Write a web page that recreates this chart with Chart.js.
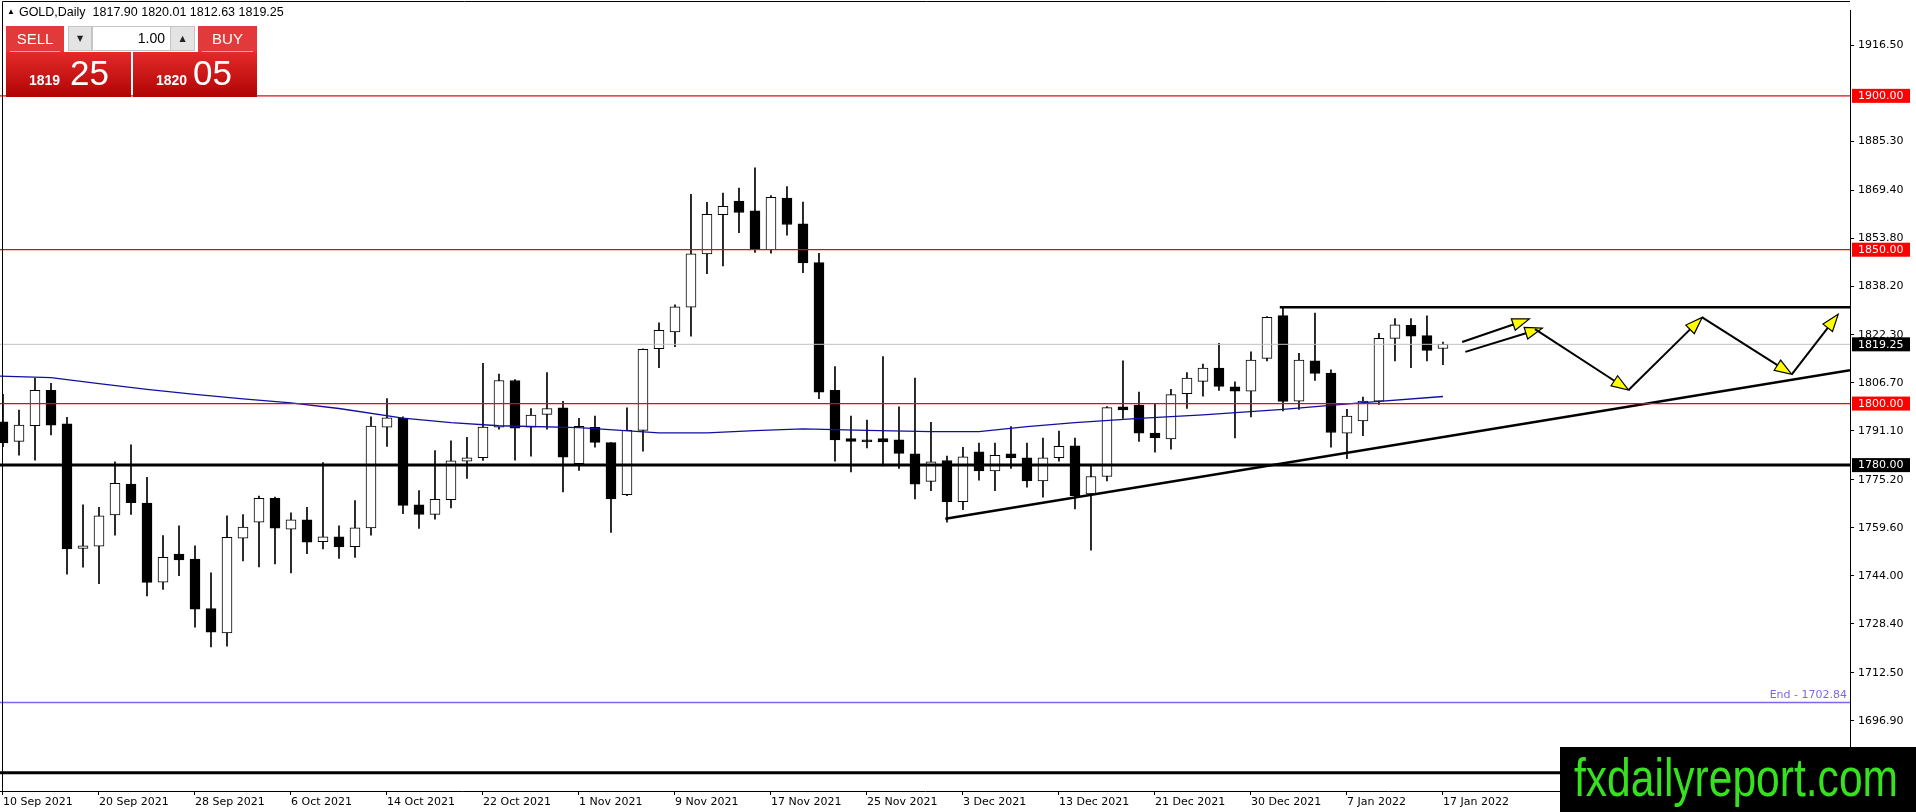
<!DOCTYPE html>
<html>
<head>
<meta charset="utf-8">
<title>GOLD,Daily</title>
<script src="https://cdn.jsdelivr.net/npm/chart.js@4.4.1/dist/chart.umd.min.js"></script>
<style>
  html, body { margin: 0; padding: 0; background: #fff; overflow: hidden; }
  #wrap { position: relative; width: 1916px; height: 812px; }
  #chart { position: absolute; left: 0; top: 0; }
  .hdr { position: absolute; left: 7px; top: 5px; font: 12.5px "Liberation Sans", Arial, sans-serif; color: #000; white-space: pre; }
  .hdr .tri { font-size: 8px; vertical-align: 2px; margin-right: 4px; }
  .btn { position: absolute; top: 26px; height: 26px; background: #e23a3a; color: #fff;
         font: 15px "Liberation Sans", Arial, sans-serif; text-align: center; line-height: 25px; }
  .btn:after { content: ""; position: absolute; left: 4px; right: 4px; bottom: 0; height: 1px; background: #f3a0a0; }
  .spin { position: absolute; top: 26px; height: 23px; background: #e4e4e4; border: 1px solid #c4c4c4;
          font: 8px "DejaVu Sans", sans-serif; color: #222; text-align: center; line-height: 23px; }
  .lot { position: absolute; top: 26px; left: 92px; width: 72px; height: 23px; background: #fff; border: 1px solid #c4c4c4;
         font: 14px "Liberation Sans", Arial, sans-serif; text-align: right; padding-right: 5px; line-height: 23px; }
  .price { position: absolute; top: 52px; height: 45px; background: linear-gradient(#e42a2a, #b00404); color: #fff;
           font-family: "Liberation Sans", Arial, sans-serif; white-space: nowrap; }
  .price b { position: absolute; bottom: 9px; font-size: 14px; }
  .price span { position: absolute; bottom: 4px; font-size: 35px; }
</style>
</head>
<body>
<div id="wrap">
  <canvas id="chart" width="1916" height="812"></canvas>
  <div class="hdr"><span class="tri">&#9650;</span>GOLD,Daily  1817.90 1820.01 1812.63 1819.25</div>
  <div class="btn" style="left:6px;width:58px;">SELL</div>
  <div class="spin" style="left:68px;width:22px;">&#9660;</div>
  <div class="lot">1.00</div>
  <div class="spin" style="left:170px;width:23px;">&#9650;</div>
  <div class="btn" style="left:198px;width:59px;">BUY</div>
  <div class="price" style="left:6px;width:125px;"><b style="left:23px;">1819</b><span style="left:64px;">25</span></div>
  <div class="price" style="left:133px;width:124px;"><b style="left:23px;">1820</b><span style="left:60px;">05</span></div>
</div>
<script>
// daily bars, 10 Sep 2021 - 17 Jan 2022
const dates = [
  '10 Sep 2021', '13 Sep 2021', '14 Sep 2021', '15 Sep 2021', '16 Sep 2021', '17 Sep 2021',
  '20 Sep 2021', '21 Sep 2021', '22 Sep 2021', '23 Sep 2021', '24 Sep 2021', '27 Sep 2021',
  '28 Sep 2021', '29 Sep 2021', '30 Sep 2021', '1 Oct 2021', '4 Oct 2021', '5 Oct 2021',
  '6 Oct 2021', '7 Oct 2021', '8 Oct 2021', '11 Oct 2021', '12 Oct 2021', '13 Oct 2021',
  '14 Oct 2021', '15 Oct 2021', '18 Oct 2021', '19 Oct 2021', '20 Oct 2021', '21 Oct 2021',
  '22 Oct 2021', '25 Oct 2021', '26 Oct 2021', '27 Oct 2021', '28 Oct 2021', '29 Oct 2021',
  '1 Nov 2021', '2 Nov 2021', '3 Nov 2021', '4 Nov 2021', '5 Nov 2021', '8 Nov 2021',
  '9 Nov 2021', '10 Nov 2021', '11 Nov 2021', '12 Nov 2021', '15 Nov 2021', '16 Nov 2021',
  '17 Nov 2021', '18 Nov 2021', '19 Nov 2021', '22 Nov 2021', '23 Nov 2021', '24 Nov 2021',
  '25 Nov 2021', '26 Nov 2021', '29 Nov 2021', '30 Nov 2021', '1 Dec 2021', '2 Dec 2021',
  '3 Dec 2021', '6 Dec 2021', '7 Dec 2021', '8 Dec 2021', '9 Dec 2021', '10 Dec 2021',
  '13 Dec 2021', '14 Dec 2021', '15 Dec 2021', '16 Dec 2021', '17 Dec 2021', '20 Dec 2021',
  '21 Dec 2021', '22 Dec 2021', '23 Dec 2021', '27 Dec 2021', '28 Dec 2021', '29 Dec 2021',
  '30 Dec 2021', '31 Dec 2021', '3 Jan 2022', '4 Jan 2022', '5 Jan 2022', '6 Jan 2022',
  '7 Jan 2022', '10 Jan 2022', '11 Jan 2022', '12 Jan 2022', '13 Jan 2022', '14 Jan 2022',
  '17 Jan 2022'
];
const opens = [
  1794.1, 1787.7, 1792.8, 1804.3, 1793.4, 1752.9, 1753.7, 1763.8, 1773.8, 1767.7,
  1742.0, 1751.1, 1749.5, 1733.4, 1725.5, 1756.3, 1761.5, 1769.2, 1759.2, 1762.2,
  1755.1, 1756.7, 1753.5, 1759.6, 1792.3, 1795.2, 1767.1, 1764.0, 1768.8, 1781.3,
  1782.4, 1792.3, 1807.5, 1792.3, 1796.5, 1798.6, 1780.5, 1792.3, 1787.3, 1770.4,
  1791.3, 1817.8, 1823.3, 1831.3, 1848.6, 1861.4, 1865.8, 1862.6, 1850.0, 1866.8,
  1858.4, 1845.8, 1804.3, 1788.6, 1788.2, 1788.6, 1788.2, 1783.7, 1774.7, 1781.5,
  1768.1, 1784.3, 1778.1, 1783.7, 1782.4, 1774.9, 1782.4, 1786.3, 1770.6, 1776.3,
  1798.9, 1799.5, 1790.4, 1788.5, 1803.2, 1807.2, 1811.5, 1805.4, 1804.0, 1814.7,
  1828.6, 1800.8, 1813.9, 1809.9, 1790.4, 1794.4, 1800.8, 1821.2, 1825.4, 1822.1,
  1817.90
];
const highs = [
  1803.0, 1797.9, 1808.2, 1806.6, 1795.5, 1767.1, 1766.3, 1781.1, 1786.6, 1776.0,
  1757.1, 1760.3, 1753.8, 1745.0, 1763.5, 1763.9, 1769.9, 1769.6, 1764.5, 1766.3,
  1780.8, 1760.3, 1768.5, 1795.7, 1801.6, 1795.7, 1771.7, 1784.7, 1787.9, 1789.0,
  1813.1, 1809.6, 1807.8, 1798.4, 1810.1, 1800.7, 1795.2, 1795.9, 1787.3, 1798.6,
  1817.8, 1826.2, 1832.1, 1868.0, 1865.4, 1868.4, 1870.0, 1876.6, 1867.6, 1870.5,
  1865.5, 1848.8, 1812.0, 1795.9, 1794.6, 1815.3, 1798.9, 1808.3, 1793.9, 1782.9,
  1785.8, 1787.2, 1787.2, 1792.5, 1787.2, 1788.8, 1791.1, 1788.8, 1780.0, 1799.0,
  1813.9, 1803.7, 1800.0, 1804.6, 1810.1, 1812.8, 1819.6, 1807.1, 1816.8, 1828.3,
  1831.2, 1816.3, 1829.4, 1811.0, 1798.1, 1802.1, 1822.8, 1827.6, 1827.6, 1828.5,
  1820.01
];
const lows = [
  1786.0, 1783.2, 1781.6, 1789.8, 1744.6, 1746.8, 1741.5, 1757.2, 1764.0, 1737.5,
  1739.6, 1744.1, 1727.3, 1720.9, 1721.2, 1748.9, 1746.9, 1747.9, 1745.0, 1751.2,
  1752.8, 1749.7, 1750.0, 1757.2, 1786.1, 1764.2, 1759.4, 1762.4, 1766.1, 1775.7,
  1781.5, 1791.7, 1781.6, 1782.9, 1791.7, 1771.3, 1778.3, 1785.8, 1758.1, 1770.1,
  1784.5, 1811.7, 1818.5, 1821.9, 1842.2, 1844.7, 1855.5, 1849.1, 1848.9, 1854.7,
  1842.5, 1801.6, 1781.3, 1777.8, 1785.6, 1779.7, 1778.9, 1769.0, 1771.7, 1761.5,
  1765.5, 1775.1, 1771.7, 1778.9, 1772.8, 1769.6, 1781.3, 1765.8, 1752.4, 1774.9,
  1795.2, 1787.7, 1784.2, 1785.2, 1798.4, 1802.4, 1804.3, 1788.8, 1795.7, 1813.9,
  1797.6, 1798.1, 1807.5, 1785.8, 1782.1, 1789.6, 1799.7, 1813.9, 1811.7, 1813.9,
  1812.63
];
const closes = [
  1787.2, 1793.0, 1804.3, 1793.0, 1752.8, 1753.8, 1763.5, 1774.1, 1767.8, 1741.9,
  1750.0, 1749.2, 1733.2, 1725.7, 1756.5, 1759.9, 1769.2, 1759.5, 1762.2, 1755.0,
  1756.7, 1753.4, 1759.6, 1792.7, 1795.4, 1766.9, 1764.0, 1768.9, 1781.4, 1782.4,
  1792.4, 1807.5, 1792.0, 1796.3, 1798.4, 1782.6, 1792.6, 1787.4, 1769.0, 1791.3,
  1817.6, 1823.8, 1831.4, 1848.7, 1861.5, 1864.1, 1862.1, 1850.1, 1867.0, 1858.2,
  1845.7, 1803.7, 1788.2, 1787.7, 1787.6, 1787.5, 1783.8, 1773.8, 1781.1, 1768.1,
  1782.7, 1778.1, 1783.2, 1782.4, 1774.9, 1782.4, 1786.1, 1770.1, 1776.3, 1798.7,
  1797.9, 1790.4, 1788.8, 1802.9, 1808.3, 1811.5, 1805.6, 1804.0, 1814.1, 1828.0,
  1800.7, 1814.1, 1809.8, 1790.6, 1795.9, 1800.8, 1821.2, 1825.6, 1821.9, 1817.3,
  1819.25
];

// moving average, read at these bars
const maBars = [-0.19, 3, 6, 9, 12, 15, 18, 21, 25, 28, 31, 36, 41, 44, 47, 50, 54, 58, 61, 64, 67, 71, 75, 80, 85, 90];
const maValues = [1808.9, 1808.4, 1806.5, 1804.6, 1803.0, 1801.5, 1800.2, 1798.4, 1795.3, 1793.8, 1792.8, 1792.2, 1790.5,
  1790.5, 1791.2, 1791.8, 1791.3, 1790.9, 1790.9, 1792.5, 1793.8, 1795.2, 1796.3, 1798.1, 1800.3, 1802.3];

const priceTicks = [1916.50, 1885.30, 1869.40, 1853.80, 1838.20, 1822.30, 1806.70, 1791.10, 1775.20, 1759.60, 1744.00, 1728.40, 1712.50, 1696.90];

const redLevels = [1900, 1850, 1800];
const blackLevels = [1780, 1680];
const bidPrice = 1819.25;
const endPrice = 1702.84;
const resistanceLine = [[79.8, 1831.3], [115.44, 1831.3]];
const trendLine = [[58.9, 1762.6], [115.44, 1810.8]];
// projected path arrows: [fromBar, fromPrice, toBar, toPrice]
const arrows = [
  [91.2, 1820.0, 95.4, 1827.5],
  [91.4, 1816.8, 96.2, 1824.5],
  [95.75, 1824.2, 101.6, 1804.4],
  [101.6, 1804.4, 106.2, 1828.0],
  [106.2, 1828.0, 111.8, 1809.5],
  [111.8, 1809.5, 114.7, 1829.0]
];
// tags on the price scale
const axisTags = [[1900, '#ff0000'], [1850, '#ff0000'], [1819.25, '#000000'], [1800, '#ff0000'], [1780, '#000000']];

const X_MIN = -0.1875, X_MAX = 115.44;
const Y_MIN = 1674.1, Y_MAX = 1927.7;

function hline(price, color, width) {
  return {
    type: 'line',
    data: [{ x: X_MIN, y: price }, { x: X_MAX, y: price }],
    borderColor: color, borderWidth: width, pointRadius: 0, order: 0
  };
}
function segment(pts, color, width) {
  return {
    type: 'line',
    data: pts.map(p => ({ x: p[0], y: p[1] })),
    borderColor: color, borderWidth: width, pointRadius: 0, order: 0
  };
}

const bgPlugin = {
  id: 'bg',
  beforeDraw(chart) {
    const c = chart.ctx;
    c.save();
    c.fillStyle = '#fff';
    c.fillRect(0, 0, chart.width, chart.height);
    c.restore();
  }
};

const arrowPlugin = {
  id: 'arrows',
  afterDatasetsDraw(chart) {
    const c = chart.ctx, xs = chart.scales.x, ys = chart.scales.y;
    c.save();
    arrows.forEach(a => {
      const x1 = xs.getPixelForValue(a[0]), y1 = ys.getPixelForValue(a[1]);
      const x2 = xs.getPixelForValue(a[2]), y2 = ys.getPixelForValue(a[3]);
      const ang = Math.atan2(y2 - y1, x2 - x1);
      const len = 17, half = 6;
      const bx = x2 - len * Math.cos(ang), by = y2 - len * Math.sin(ang);
      c.strokeStyle = '#000';
      c.lineWidth = 2;
      c.beginPath();
      c.moveTo(x1, y1);
      c.lineTo(bx, by);
      c.stroke();
      c.beginPath();
      c.moveTo(x2, y2);
      c.lineTo(bx + half * Math.sin(ang), by - half * Math.cos(ang));
      c.lineTo(bx - half * Math.sin(ang), by + half * Math.cos(ang));
      c.closePath();
      c.fillStyle = '#ffff00';
      c.fill();
      c.lineWidth = 1.2;
      c.stroke();
    });
    c.restore();
  }
};

const overlayPlugin = {
  id: 'overlay',
  afterDraw(chart) {
    const c = chart.ctx, ys = chart.scales.y, area = chart.chartArea;
    c.save();
    // frame left/top
    c.strokeStyle = '#000';
    c.lineWidth = 1;
    c.beginPath();
    c.moveTo(area.right, 1.5);
    c.lineTo(2.5, 1.5);
    c.lineTo(2.5, area.bottom);
    c.stroke();

    // End label
    const ye = ys.getPixelForValue(endPrice);
    c.font = '11px "DejaVu Sans", sans-serif';
    c.fillStyle = '#7b68ee';
    c.textAlign = 'right';
    c.textBaseline = 'bottom';
    c.fillText('End - ' + endPrice.toFixed(2), area.right - 3, ye - 2);

    // price tags
    c.textAlign = 'left';
    c.textBaseline = 'middle';
    axisTags.forEach(t => {
      const y = ys.getPixelForValue(t[0]);
      c.fillStyle = t[1];
      c.fillRect(area.right + 2, y - 7, 58, 14);
      c.fillStyle = '#fff';
      c.fillText(t[0].toFixed(2), area.right + 8, y + 0.5);
    });

    // watermark
    c.fillStyle = '#000';
    c.fillRect(1560, 747, 356, 65);
    c.font = '53px "Liberation Sans", Arial, sans-serif';
    const w = c.measureText('fxdailyreport.com').width;
    c.translate(1574, 796);
    c.scale(324 / w, 1);
    c.fillStyle = '#35e21d';
    c.textAlign = 'left';
    c.textBaseline = 'alphabetic';
    c.fillText('fxdailyreport.com', 0, 0);
    c.restore();
  }
};

new Chart(document.getElementById('chart'), {
  type: 'bar',
  data: {
    datasets: [
      {
        label: 'wick',
        data: dates.map((d, i) => ({ x: i, y: [lows[i], highs[i]] })),
        backgroundColor: '#000',
        barThickness: 1,
        grouped: false,
        order: 6
      },
      {
        label: 'body',
        data: dates.map((d, i) => ({ x: i, y: [opens[i], closes[i]] })),
        backgroundColor: ctx => closes[ctx.dataIndex] >= opens[ctx.dataIndex] ? '#ffffff' : '#000000',
        borderColor: '#000',
        borderWidth: 1,
        borderSkipped: false,
        barThickness: 10,
        grouped: false,
        order: 5
      },
      {
        type: 'line',
        label: 'MA',
        data: maBars.map((b, k) => ({ x: b, y: maValues[k] })),
        borderColor: '#1010a0',
        borderWidth: 1.3,
        pointRadius: 0,
        order: 1
      },
      hline(bidPrice, '#c0c0c0', 1),
      ...redLevels.map(p => hline(p, '#d90f0f', 1.2)),
      ...blackLevels.map(p => hline(p, '#000', 3)),
      hline(endPrice, '#7b68ee', 1.6),
      segment(resistanceLine, '#000', 2.5),
      segment(trendLine, '#000', 2.5)
    ]
  },
  options: {
    responsive: false,
    animation: false,
    events: [],
    layout: { padding: 0, autoPadding: false },
    plugins: { legend: { display: false }, tooltip: { enabled: false } },
    scales: {
      x: {
        type: 'linear',
        offset: false,
        min: X_MIN,
        max: X_MAX,
        afterBuildTicks: s => { s.ticks = dates.map((d, i) => i).filter(i => i % 6 === 0).map(v => ({ value: v })); },
        afterFit: s => { s.height = 21; },
        grid: { display: true, offset: false, drawOnChartArea: false, drawTicks: true, tickLength: 4, color: '#000' },
        border: { display: true, color: '#000' },
        ticks: {
          autoSkip: false, maxRotation: 0, align: 'start', padding: 1, color: '#000',
          font: { family: 'DejaVu Sans', size: 11 },
          callback: v => dates[v] || ''
        }
      },
      y: {
        type: 'linear',
        position: 'right',
        min: Y_MIN,
        max: Y_MAX,
        afterBuildTicks: s => { s.ticks = priceTicks.map(v => ({ value: v })); },
        afterFit: s => { s.width = 66; },
        grid: { display: true, drawOnChartArea: false, drawTicks: true, tickLength: 4, color: '#000' },
        border: { display: true, color: '#000' },
        ticks: {
          autoSkip: false, padding: 4, color: '#000',
          font: { family: 'DejaVu Sans', size: 11 },
          callback: v => v.toFixed(2)
        }
      }
    }
  },
  plugins: [bgPlugin, arrowPlugin, overlayPlugin]
});
</script>
</body>
</html>
